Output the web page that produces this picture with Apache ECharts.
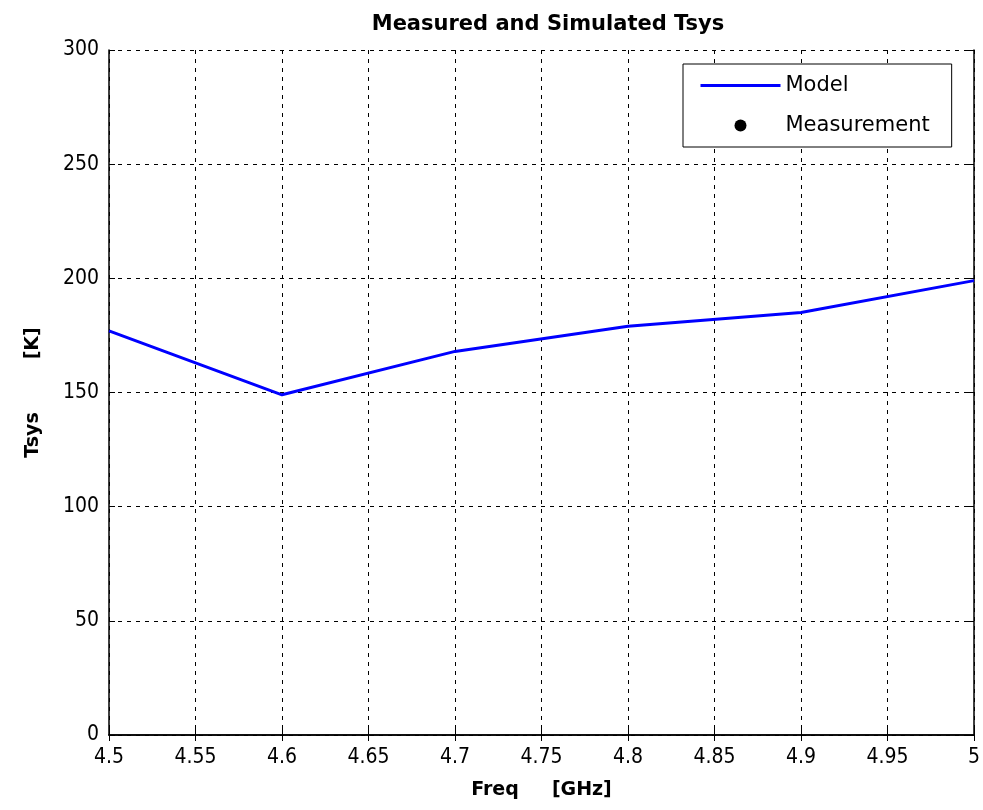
<!DOCTYPE html>
<html><head><meta charset="utf-8">
<script src="https://cdn.jsdelivr.net/npm/echarts@6/dist/echarts.min.js"></script>
<style>html,body{margin:0;padding:0;background:#fff}#c{width:983px;height:810px}</style>
</head><body><div id="c"></div>
<script>
const freq = [4.5, 4.6, 4.7, 4.8, 4.9, 5.0];
const model = [177, 149, 168, 179, 185, 199];
const measurement = [];
const titleText = 'Measured and Simulated Tsys';
const xName = 'Freq     [GHz]';
const yName = 'Tsys        [K]';

const TICKFONT = '"DejaVu Sans Condensed", "DejaVu Sans", sans-serif';
const BOLDFONT = '"DejaVu Sans", sans-serif';
const chart = echarts.init(document.getElementById('c'));
const gridLine = {show: true, lineStyle: {color: '#000', type: [4, 5], width: 1}};
const tick = {show: true, inside: true, length: 6, lineStyle: {color: '#000'}};
const axLine = {show: true, lineStyle: {color: '#000', width: 1.5}};
chart.setOption({
  animation: false,
  backgroundColor: '#fff',
  title: {text: titleText, left: 543, textAlign: 'center', top: 9,
    textStyle: {fontFamily: BOLDFONT, fontWeight: 'bold', fontSize: 21, color: '#000'}},
  grid: {left: 109, right: 6, top: 50, bottom: 75},
  legend: {
    orient: 'vertical', left: 683, top: 64,
    backgroundColor: '#fff', borderColor: '#000', borderWidth: 1,
    padding: [11, 22, 11, 16], itemWidth: 80, itemHeight: 12, itemGap: 19,
    textStyle: {fontFamily: '"DejaVu Sans", sans-serif', fontSize: 21, color: '#000'},
    data: [
      {name: 'Model', itemStyle: {opacity: 0}, lineStyle: {width: 3, color: '#0000ff'}},
      {name: 'Measurement', itemStyle: {color: '#000', opacity: 1}}
    ]
  },
  xAxis: [{
    type: 'value', min: 4.5, max: 5, interval: 0.05,
    name: xName, nameLocation: 'middle', nameGap: 46,
    nameTextStyle: {fontFamily: BOLDFONT, fontWeight: 'bold', fontSize: 19, color: '#000'},
    axisLine: axLine, axisTick: tick, splitLine: gridLine,
    axisLabel: {fontFamily: TICKFONT, fontSize: 21, color: '#000', margin: 12,
      formatter: v => String(Math.round(v * 100) / 100)}
  }, {
    type: 'value', position: 'top', min: 4.5, max: 5, interval: 0.05,
    axisLine: axLine, axisTick: tick, axisLabel: {show: false}, splitLine: {show: false}
  }],
  yAxis: [{
    type: 'value', min: 0, max: 300, interval: 50,
    name: yName, nameLocation: 'middle', nameGap: 66,
    nameTextStyle: {fontFamily: BOLDFONT, fontWeight: 'bold', fontSize: 19, color: '#000'},
    axisLine: axLine, axisTick: tick, splitLine: gridLine,
    axisLabel: {fontFamily: TICKFONT, fontSize: 21, color: '#000', margin: 10}
  }, {
    type: 'value', position: 'right', min: 0, max: 300, interval: 50,
    axisLine: axLine, axisTick: tick, axisLabel: {show: false}, splitLine: {show: false}
  }],
  series: [{
    name: 'Model', type: 'line', symbol: 'none',
    lineStyle: {color: '#0000ff', width: 3}, itemStyle: {color: '#0000ff'},
    data: freq.map((f, i) => [f, model[i]])
  }, {
    name: 'Measurement', type: 'scatter', symbol: 'circle', symbolSize: 11,
    itemStyle: {color: '#000', opacity: 1},
    data: measurement
  }]
});
</script></body></html>
